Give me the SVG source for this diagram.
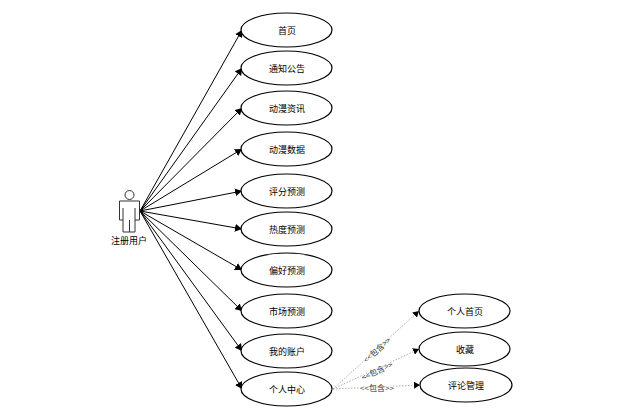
<svg xmlns="http://www.w3.org/2000/svg" width="623" height="417" viewBox="0 0 623 417">
<style>
.n{fill:#fff;stroke:#000;stroke-width:1.2}
.t{font:9px "Noto Sans CJK SC","Liberation Sans",sans-serif;fill:#000;text-anchor:middle}
.l{font:8px "Noto Sans CJK SC","Liberation Sans",sans-serif;fill:#333;text-anchor:middle;stroke:#fff;stroke-width:2;paint-order:stroke}
.c{fill:none;stroke:#000;stroke-width:1;marker-end:url(#a)}
.d{fill:none;stroke:#999;stroke-width:.8;stroke-dasharray:1.5 1.5;marker-end:url(#b)}
.p{fill:#fff;stroke:#333;stroke-width:1}
</style>
<defs>
<marker id="a" markerUnits="userSpaceOnUse" markerWidth="10" markerHeight="8" refX="7" refY="4" orient="auto"><path d="M0 0L7 4L0 8Z" fill="#000"/></marker>
<marker id="b" markerUnits="userSpaceOnUse" markerWidth="8" markerHeight="7" refX="6" refY="3.5" orient="auto"><path d="M0 0L6 3.5L0 7Z" fill="#000"/></marker>
</defs>
<rect width="623" height="417" fill="#fff"/>
<g id="connectors">
<path class="c" d="M140 211L242 30"/>
<path class="c" d="M140 211L242 68"/>
<path class="c" d="M140 211L242 108"/>
<path class="c" d="M140 211L242 149"/>
<path class="c" d="M140 211L242 191"/>
<path class="c" d="M140 211L242 229"/>
<path class="c" d="M140 211L242 270"/>
<path class="c" d="M140 211L242 311"/>
<path class="c" d="M140 211L242 351"/>
<path class="c" d="M140 211L242 389"/>
<path class="d" d="M333 389L419 311"/>
<path class="d" d="M333 389L419 349"/>
<path class="d" d="M333 389L420 385"/>
<text class="l" transform="translate(377 350) rotate(-42)" y="3">&lt;&lt;包含&gt;&gt;</text>
<text class="l" transform="translate(377 371) rotate(-25)" y="3">&lt;&lt;包含&gt;&gt;</text>
<text class="l" x="377" y="391">&lt;&lt;包含&gt;&gt;</text>
</g>
<g id="actor">
<circle class="p" cx="129.500" cy="195" r="4.500"/>
<path class="p" d="M119.500 201H139.500V220H135V232H123V220H119.500Z"/>
<path fill="none" stroke="#333" d="M123 208V220M135 208V220M129.500 220V232"/>
<text class="t" x="129" y="244">注册用户</text>
</g>
<g id="n1"><ellipse class="n" cx="286.500" cy="30" rx="45.500" ry="17"/><text class="t" x="287" y="34">首页</text></g>
<g id="n2"><ellipse class="n" cx="286.500" cy="68" rx="45.500" ry="17"/><text class="t" x="287" y="72">通知公告</text></g>
<g id="n3"><ellipse class="n" cx="286.500" cy="108" rx="45.500" ry="17"/><text class="t" x="287" y="112">动漫资讯</text></g>
<g id="n4"><ellipse class="n" cx="286.500" cy="149" rx="45.500" ry="17"/><text class="t" x="287" y="153">动漫数据</text></g>
<g id="n5"><ellipse class="n" cx="286.500" cy="191" rx="45.500" ry="17"/><text class="t" x="287" y="195">评分预测</text></g>
<g id="n6"><ellipse class="n" cx="286.500" cy="229" rx="45.500" ry="17"/><text class="t" x="287" y="233">热度预测</text></g>
<g id="n7"><ellipse class="n" cx="286.500" cy="270" rx="45.500" ry="17"/><text class="t" x="287" y="274">偏好预测</text></g>
<g id="n8"><ellipse class="n" cx="286.500" cy="311" rx="45.500" ry="17"/><text class="t" x="287" y="315">市场预测</text></g>
<g id="n9"><ellipse class="n" cx="286.500" cy="351" rx="45.500" ry="17"/><text class="t" x="287" y="355">我的账户</text></g>
<g id="n10"><ellipse class="n" cx="286.500" cy="389" rx="45.500" ry="17"/><text class="t" x="287" y="393">个人中心</text></g>
<g id="n11"><ellipse class="n" cx="464.500" cy="311" rx="45.500" ry="17"/><text class="t" x="465" y="315">个人首页</text></g>
<g id="n12"><ellipse class="n" cx="464.500" cy="349" rx="45.500" ry="17"/><text class="t" x="465" y="353">收藏</text></g>
<g id="n13"><ellipse class="n" cx="466" cy="385" rx="46" ry="17"/><text class="t" x="466" y="389">评论管理</text></g>
</svg>
